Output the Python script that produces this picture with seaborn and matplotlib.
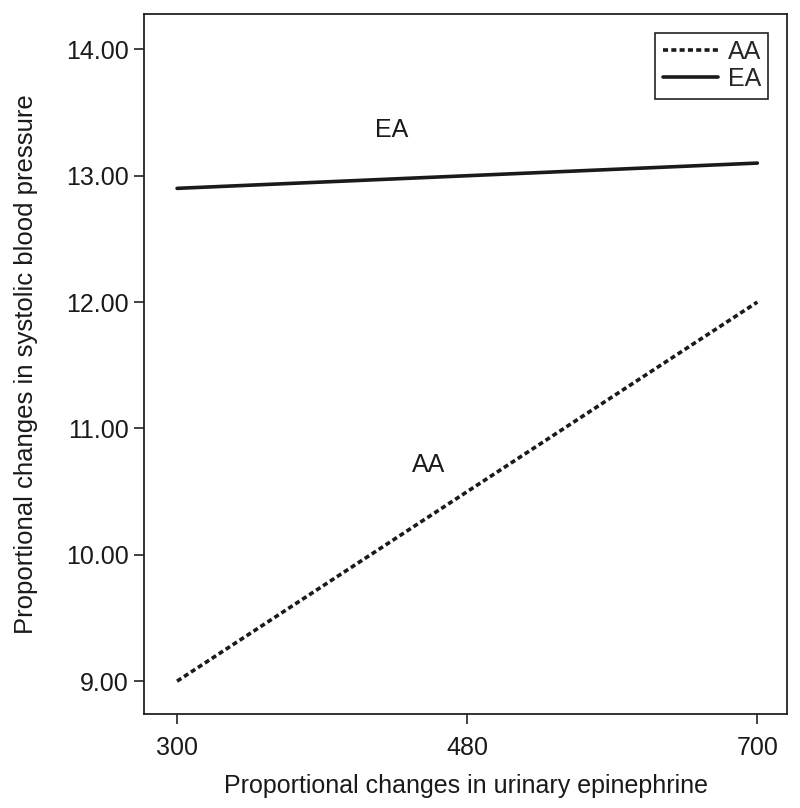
import numpy as np
import pandas as pd
import matplotlib
matplotlib.use("Agg")
import matplotlib.pyplot as plt
import seaborn as sns

# Datos
epinefrina = ["300", "480", "700"]
aa_valores = [9.0, 10.5, 12.0]
ea_valores = [12.9, 13.0, 13.1]
grupos = ["AA", "EA"]
yticks = [9, 10, 11, 12, 13, 14]

sns.set_theme(style="ticks")
plt.rcParams['font.family'] = ['Liberation Sans', 'DejaVu Sans']

pos = list(range(len(epinefrina)))
df = pd.DataFrame({
    "pos": pos * 2,
    "valor": aa_valores + ea_valores,
    "grupo": ["AA"] * len(pos) + ["EA"] * len(pos),
})

fig = plt.figure(figsize=(8, 8.08), dpi=100)
ax = fig.add_axes([0.18, 0.1163, 0.804, 0.8664])

sns.lineplot(data=df, x="pos", y="valor", hue="grupo", style="grupo",
             palette={"AA": "#1a1a1a", "EA": "#1a1a1a"},
             dashes={"AA": (1.4, 0.9), "EA": ""},
             linewidth=2.6, legend=False, ax=ax)

ax.set_xlim(-0.114, 2.103)
ax.set_ylim(8.74, 14.28)
ax.set_xticks(pos)
ax.set_xticklabels(epinefrina)
ax.set_yticks(yticks)
ax.set_yticklabels([f"{v:.2f}" for v in yticks])
ax.tick_params(axis="both", labelsize=18, length=7, width=1.2, color="#222222",
               labelcolor="#1a1a1a")
ax.tick_params(axis="x", pad=9)
ax.tick_params(axis="y", pad=4)
for s in ax.spines.values():
    s.set_linewidth(1.3)
    s.set_color("#222222")

ax.set_xlabel("Proportional changes in urinary epinephrine", fontsize=18,
              color="#1a1a1a", labelpad=10)
ax.set_ylabel("Proportional changes in systolic blood pressure", fontsize=18.5,
              color="#1a1a1a", labelpad=20)

# etiquetas dentro del grafico
ax.text(0.741, 13.36, "EA", fontsize=18, ha="center", va="center", color="#1a1a1a")
ax.text(0.866, 10.71, "AA", fontsize=18, ha="center", va="center", color="#1a1a1a")

lineas = ax.get_lines()
leg = ax.legend(lineas[:2], grupos, loc="upper right", fontsize=18,
                frameon=True, fancybox=False, framealpha=1, edgecolor="#222222",
                handlelength=2.2, handletextpad=0.4, borderpad=0.3,
                labelspacing=0.12, borderaxespad=0.75)
leg.get_frame().set_linewidth(1.2)

fig.savefig("out.png", dpi=100)
